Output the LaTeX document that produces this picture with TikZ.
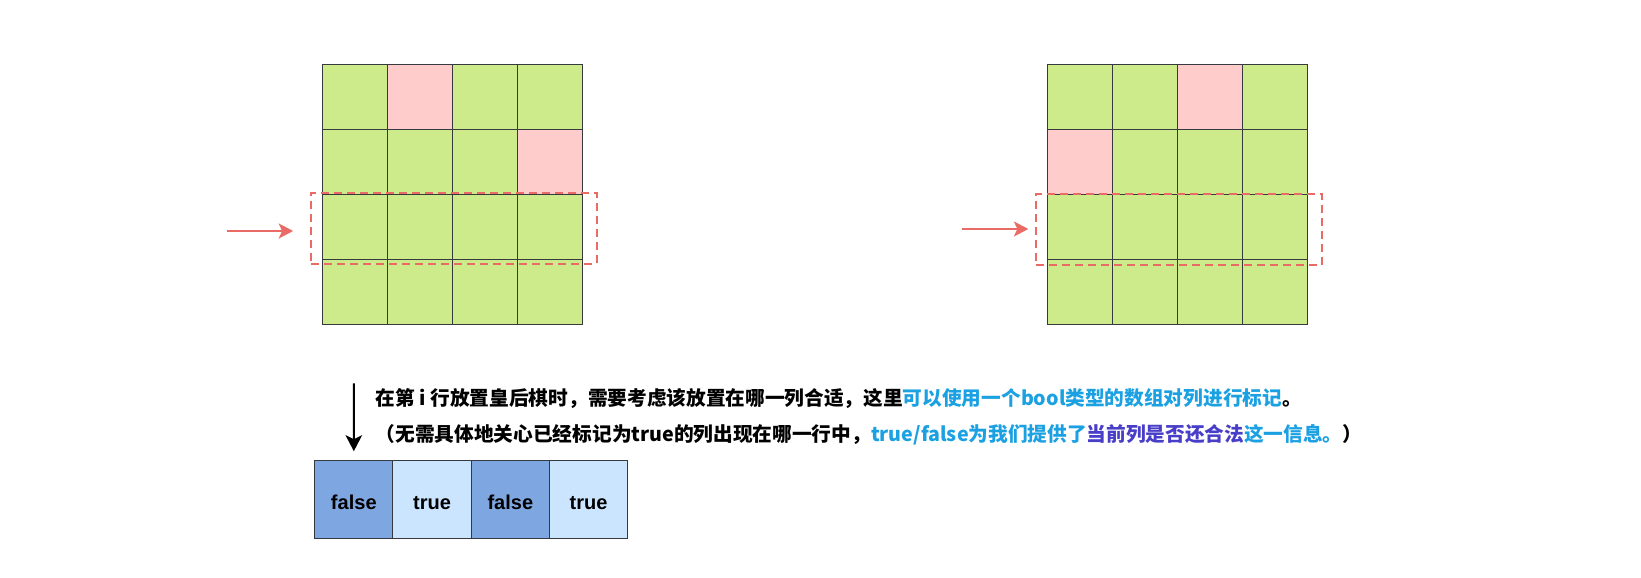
\documentclass[tikz,border=0pt]{standalone}
\usepackage{fontspec}
\setmainfont{Liberation Sans}
\newfontfamily\cjk{Noto Sans CJK SC}
\usepackage{tikz}
\usetikzlibrary{arrows.meta,positioning,fit,calc}
\definecolor{cellgreen}{RGB}{205,235,139}
\definecolor{queenpink}{RGB}{255,204,204}
\definecolor{gridgray}{RGB}{54,57,61}
\definecolor{markred}{RGB}{234,107,102}
\definecolor{flagdark}{RGB}{126,166,224}
\definecolor{flaglight}{RGB}{204,229,255}
\definecolor{noteblue}{RGB}{27,161,226}
\definecolor{notepurple}{RGB}{72,62,200}
\tikzset{
  cell/.style={draw=gridgray, fill=cellgreen, line width=0.02cm,
               minimum size=1.302cm, inner sep=0pt, outer sep=0pt},
  queen/.style={cell, fill=queenpink},
  rowmark/.style={draw=markred, line width=0.045cm,
                  dash pattern=on 0.16cm off 0.1cm, inner sep=0pt},
  pointer/.style={markred, line width=0.04cm,
                  -{Stealth[length=0.29cm, width=0.3cm, inset=0.07cm]}},
  drop/.style={black, line width=0.04cm,
               -{Stealth[length=0.32cm, width=0.33cm, inset=0.08cm]}},
  flag/.style={draw=gridgray, line width=0.02cm, minimum width=1.565cm,
               minimum height=1.552cm, inner sep=0pt, outer sep=0pt,
               text height=0.41cm, text depth=0pt,
               font=\fontsize{11.4pt}{13pt}\selectfont\bfseries},
  flagF/.style={flag, fill=flagdark},
  flagT/.style={flag, fill=flaglight},
  note/.style={anchor=base west, inner sep=0pt,
               font=\cjk\bfseries\fontsize{11.2pt}{13pt}\selectfont}
}
\begin{document}
\begin{tikzpicture}
  \useasboundingbox (0,0) rectangle (32.82,-11.54);
  % Two 4x4 boards, pink cells hold queens
  \foreach \g/\gx/\pa/\pb in {l/7.097/1/13, r/21.591/2/10}{
    \foreach \r in {0,...,3}{
      \foreach \c in {0,...,3}{
        \pgfmathtruncatemacro\k{10*\r+\c}
        \ifnum\k=\pa \def\kind{queen}\else
          \ifnum\k=\pb \def\kind{queen}\else \def\kind{cell}\fi\fi
        \node[\kind] (\g\r\c) at ({\gx+\c*1.302}, {-1.931-\r*1.302}) {};
      }
    }
  }
  % Current row, dashed
  \node[rowmark, fit={([xshift=-0.22cm,yshift=0.03cm]l20.north west)
                      ([xshift=0.28cm,yshift=-0.09cm]l23.south east)}] (lsel) {};
  \node[rowmark, fit={([xshift=-0.22cm,yshift=0.01cm]r20.north west)
                      ([xshift=0.29cm,yshift=-0.11cm]r23.south east)}] (rsel) {};
  \coordinate (lin) at (4.546,-4.62);
  \coordinate (rin) at (19.24,-4.58);
  \draw[pointer, shorten >=0.34cm] (lin) -- (lin -| lsel.west);
  \draw[pointer, shorten >=0.13cm] (rin) -- (rin -| rsel.west);
  % Column flags
  \foreach [count=\i from 0] \v/\s in {false/flagF, true/flagT, false/flagF, true/flagT}{
    \node[\s] (f\i) at ({7.0765+\i*1.565}, -9.99) {\v};
  }
  \coordinate (fin) at (7.077,-7.666);
  \draw[drop, shorten >=0.19cm] (fin) -- (f0.north);
  % Notes
  \node[note] (line1) at (7.51,-8.106)
    {在第 i 行放置皇后棋时，需要考虑该放置在哪一列合适，这里\textcolor{noteblue}{可以使用一个bool类型的数组对列进行标记}。};
  \node[note] (line2) at ([yshift=-0.726cm]line1.base west)
    {（无需具体地关心已经标记为true的列出现在哪一行中，\textcolor{noteblue}{true/false为我们提供了}\textcolor{notepurple}{当前列是否还合法}\textcolor{noteblue}{这一信息。}）};
\end{tikzpicture}
\end{document}
